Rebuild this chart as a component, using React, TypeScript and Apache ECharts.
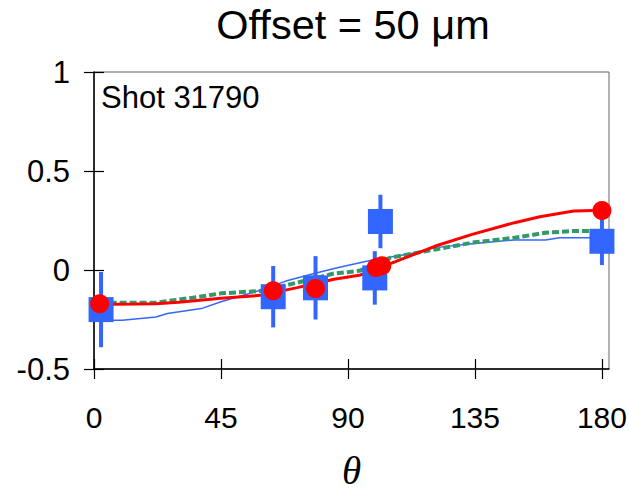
import React, { useEffect, useRef } from "react";
import * as echarts from "echarts";

// Measured points (blue squares with error bars)
const thetaObs = [2.5, 63.5, 78.5, 99.5, 101.5, 180];
const obs = [-0.2, -0.135, -0.09, -0.04, 0.245, 0.145];
const obsErr = [0.19, 0.155, 0.16, 0.135, 0.135, 0.12];

// Calculated points (red circles)
const thetaCalc = [2, 63.5, 78.5, 100, 102, 180];
const calc = [-0.17, -0.105, -0.093, 0.012, 0.022, 0.3];

// Red thick curve
const thetaRed = [2, 7, 15, 22, 30, 45, 59, 72, 85, 94, 105, 121, 134, 149, 158, 170, 177, 180];
const red = [-0.17, -0.173, -0.172, -0.17, -0.163, -0.143, -0.128, -0.089, -0.047, -0.027, 0.032, 0.121, 0.18, 0.239, 0.269, 0.298, 0.3, 0.3];

// Green dashed curve
const thetaGreen = [2, 7, 22, 35, 45, 59, 72, 85, 94, 105, 121, 134, 149, 160, 170, 176];
const green = [-0.165, -0.165, -0.165, -0.14, -0.118, -0.106, -0.064, -0.018, -0.004, 0.062, 0.104, 0.138, 0.163, 0.188, 0.197, 0.197];

// Blue thin curve
const thetaBlue = [3, 10, 22, 26, 38, 45, 58, 68, 78, 87, 97, 111, 121, 134, 149, 160, 165, 178];
const blue = [-0.254, -0.254, -0.237, -0.22, -0.195, -0.16, -0.106, -0.056, -0.018, 0.014, 0.045, 0.079, 0.113, 0.133, 0.152, 0.152, 0.163, 0.163];

const xTicks = [0, 45, 90, 135, 180];

const FONT = "'Liberation Sans', Arial, sans-serif";

export default function App() {
  const ref = useRef<HTMLDivElement>(null);
  useEffect(() => {
    if (!ref.current) return;
    const chart = echarts.init(ref.current, null, { renderer: "svg" });
    const zip = (xs: number[], ys: number[]) => xs.map((x, i) => [x, ys[i]]);
    const errData = thetaObs.map((t, i) => [t, obs[i] - obsErr[i], obs[i] + obsErr[i]]);
    const xBase = { type: "value", min: 0, max: 182.5, splitLine: { show: false } };
    const yBase = { type: "value", min: -0.5, max: 1, interval: 0.5, splitLine: { show: false } };
    chart.setOption({
      animation: false,
      backgroundColor: "#ffffff",
      grid: {
        left: 94, right: 20, top: 72, bottom: 122,
        show: true, borderColor: "#666", borderWidth: 1,
        containLabel: false, outerBoundsMode: "none",
      },
      xAxis: [
        {
          ...xBase,
          position: "bottom",
          axisLine: { show: true, onZero: false, lineStyle: { color: "#000", width: 1.5 } },
          axisTick: { show: true, inside: true, length: 10, customValues: xTicks, lineStyle: { color: "#000", width: 1.2 } },
          axisLabel: { customValues: xTicks, color: "#000", fontSize: 30, fontFamily: FONT, margin: 33 },
          name: "θ",
          nameLocation: "middle",
          nameGap: 83,
          nameTextStyle: { fontSize: 39, lineHeight: 37, fontStyle: "italic", fontFamily: "'Liberation Serif', 'Times New Roman', serif", color: "#000" },
        },
        {
          ...xBase,
          position: "bottom",
          axisLine: { show: false, onZero: false },
          axisTick: { show: true, inside: false, length: 10, customValues: xTicks, lineStyle: { color: "#000", width: 1.2 } },
          axisLabel: { show: false },
        },
      ],
      yAxis: [
        {
          ...yBase,
          position: "left",
          axisLine: { show: true, onZero: false, lineStyle: { color: "#000", width: 1.5 } },
          axisTick: { show: true, inside: true, length: 10, lineStyle: { color: "#000", width: 1.2 } },
          axisLabel: { color: "#000", fontSize: 31, fontFamily: FONT, margin: 24 },
        },
        {
          ...yBase,
          position: "left",
          axisLine: { show: false, onZero: false },
          axisTick: { show: true, inside: false, length: 10, lineStyle: { color: "#000", width: 1.2 } },
          axisLabel: { show: false },
        },
      ],
      graphic: [
        {
          type: "text",
          x: 353,
          y: 24,
          style: { text: "Offset = 50 μm", fontSize: 41.5, fontFamily: FONT, fill: "#000", textAlign: "center", textVerticalAlign: "middle" },
        },
        {
          type: "text",
          x: 101,
          y: 97,
          style: { text: "Shot 31790", fontSize: 31, fontFamily: FONT, fill: "#000", textAlign: "left", textVerticalAlign: "middle" },
        },
      ],
      series: [
        {
          type: "line",
          data: zip(thetaBlue, blue),
          showSymbol: false,
          lineStyle: { color: "#3366FF", width: 1.5 },
          z: 2,
        },
        {
          type: "line",
          data: zip(thetaGreen, green),
          showSymbol: false,
          lineStyle: { color: "#339966", width: 4, type: [7, 3] },
          z: 3,
        },
        {
          type: "line",
          data: zip(thetaRed, red),
          showSymbol: false,
          lineStyle: { color: "#FF0000", width: 3 },
          z: 4,
        },
        {
          type: "custom",
          data: errData,
          encode: { x: 0, y: [1, 2] },
          renderItem: (params: any, api: any) => {
            const p1 = api.coord([api.value(0), api.value(1)]);
            const p2 = api.coord([api.value(0), api.value(2)]);
            return {
              type: "line",
              shape: { x1: p1[0], y1: p1[1], x2: p2[0], y2: p2[1] },
              style: { stroke: "#3366FF", lineWidth: 4 },
            };
          },
          z: 5,
        },
        {
          type: "scatter",
          data: zip(thetaObs, obs),
          symbol: "rect",
          symbolSize: 25,
          itemStyle: { color: "#3366FF", opacity: 1 },
          z: 6,
        },
        {
          type: "scatter",
          data: zip(thetaCalc, calc),
          symbol: "circle",
          symbolSize: 19,
          itemStyle: { color: "#FF0000", opacity: 1 },
          z: 7,
        },
      ],
    });
    return () => chart.dispose();
  }, []);
  return <div ref={ref} style={{ position: "fixed", left: 0, top: 0, width: 629, height: 491 }} />;
}
